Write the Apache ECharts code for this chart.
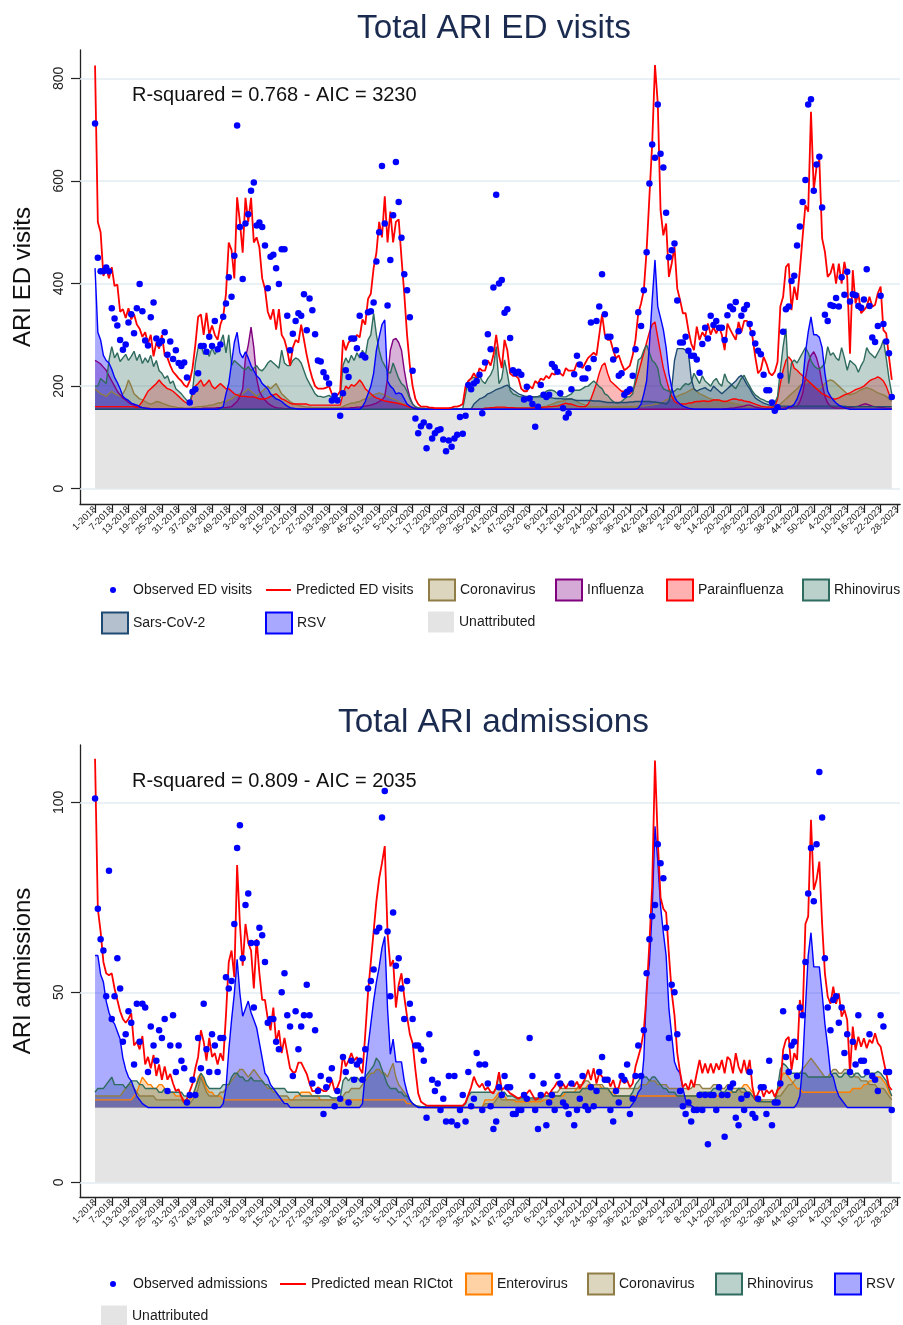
<!DOCTYPE html>
<html><head><meta charset="utf-8">
<script src="https://cdn.jsdelivr.net/npm/echarts@6/dist/echarts.min.js"></script>
<style>html,body{margin:0;padding:0;background:#fff}#chart{width:903px;height:1325px}</style>
</head><body><div id="chart"></div>
<script>
// ---------- tick labels (ISO week-year), one every 6 weeks starting at 1-2018 ----------
const weekTickLabels = ['1-2018','7-2018','13-2018','19-2018','25-2018','31-2018','37-2018','43-2018','49-2018',
 '3-2019','9-2019','15-2019','21-2019','27-2019','33-2019','39-2019','45-2019','51-2019',
 '5-2020','11-2020','17-2020','23-2020','29-2020','35-2020','41-2020','47-2020','53-2020',
 '6-2021','12-2021','18-2021','24-2021','30-2021','36-2021','42-2021','48-2021',
 '2-2022','8-2022','14-2022','20-2022','26-2022','32-2022','38-2022','44-2022','50-2022',
 '4-2023','10-2023','16-2023','22-2023','28-2023'];

// ---------- Panel 1: ARI ED visits (weekly, index 0 = week 1-2018) ----------
const edObserved = [
712,450,424,424,431,424,352,332,318,290,
271,281,324,340,303,352,399,346,289,279,
334,363,293,283,288,305,261,287,253,270,
245,239,246,217,168,189,194,225,278,278,
267,296,278,327,272,281,335,361,412,374,
454,708,510,409,517,535,581,597,513,519,
510,474,391,452,456,430,399,467,467,337,
270,302,327,342,337,379,309,371,348,301,
250,248,227,217,205,172,181,172,142,186,
231,218,293,293,274,337,260,256,344,346,
363,443,500,629,517,357,446,533,637,559,
489,418,387,334,230,137,108,122,129,79,
122,98,108,114,116,96,73,94,82,98,
105,140,107,142,202,194,205,210,222,147,
246,301,272,392,573,400,407,343,350,294,
231,225,228,222,174,199,176,165,121,160,
202,183,179,183,243,237,228,186,157,139,
147,194,223,259,242,215,215,235,324,253,
327,355,418,340,296,296,252,270,220,225,
183,189,194,220,272,344,317,387,461,595,
671,645,749,653,626,538,451,465,478,367,
285,285,296,269,259,259,252,226,282,314,
293,337,319,327,314,314,290,338,355,350,
364,307,337,350,358,321,303,283,269,262,
222,192,192,168,152,159,220,306,350,355,
405,415,474,511,559,602,749,759,581,632,
647,548,339,327,358,356,372,355,412,378,
423,365,379,377,356,353,369,428,356,295,
286,317,376,321,287,264,179];

const edPredicted = [
825,520,500,415,430,410,432,395,398,345,
350,333,352,330,340,320,312,296,305,283,
300,258,285,273,300,260,255,240,228,222,
215,210,202,198,210,235,280,335,340,300,
343,300,318,300,290,320,335,380,480,465,
410,568,520,460,567,520,567,480,490,470,
410,390,345,330,350,310,350,300,290,270,
240,275,290,285,320,290,260,235,215,200,
195,195,195,197,200,185,182,182,190,290,
270,285,290,288,300,295,330,320,370,380,
430,460,520,490,570,480,540,480,520,525,
450,380,300,240,200,175,165,160,160,160,
158,158,157,157,157,157,157,157,158,160,
160,162,165,200,210,215,225,215,235,230,
230,250,240,260,300,260,235,290,270,225,
220,220,215,195,190,190,200,195,210,205,
215,212,220,215,225,222,230,225,220,235,
230,230,230,245,240,235,245,255,260,265,
260,300,340,300,290,290,270,254,260,244,
231,235,240,260,290,342,361,387,465,569,
673,826,751,543,494,517,413,439,472,390,
368,342,342,309,283,270,316,290,305,296,
322,300,315,303,315,300,270,322,310,300,
290,325,305,327,327,315,296,257,225,232,
257,244,226,221,228,247,355,374,432,439,
348,394,368,426,491,553,540,735,582,628,
641,488,462,413,420,439,400,439,400,442,
413,263,426,361,381,342,348,355,374,355,
358,381,394,309,303,257,212];

const edBaseline = 155; // unattributed visits (flat)

// visits attributed to each pathogen, above the unattributed baseline
const edCoronavirus = [
40,35,30,28,25,30,35,30,28,25,
30,40,57,45,30,25,20,18,15,12,
10,12,15,14,12,10,8,6,5,4,
3,3,2,2,2,3,4,5,5,6,
6,8,8,10,12,12,15,15,18,20,
25,28,30,30,35,40,35,30,25,30,
35,40,45,40,45,50,40,30,25,20,
15,12,10,8,6,5,4,4,3,3,
3,3,3,3,3,3,3,3,3,5,
8,10,12,12,14,15,18,20,22,25,
28,30,32,30,28,25,22,20,18,15,
12,10,8,5,3,2,1,0,0,0,
0,0,0,0,0,0,0,0,0,0,
0,0,0,0,0,0,0,0,0,0,
2,2,2,2,3,3,3,3,3,3,
3,3,3,3,3,3,3,3,4,4,
4,5,6,8,10,12,14,15,16,18,
20,20,18,15,12,10,8,6,5,5,
5,5,5,5,5,5,5,5,5,5,
5,5,5,5,5,6,6,6,7,8,
8,10,10,12,15,18,20,22,25,25,
28,30,32,35,38,40,35,30,28,25,
22,20,18,18,16,15,15,14,13,12,
10,10,8,8,6,6,5,5,4,4,
4,4,4,4,5,8,10,15,20,25,
30,35,40,45,50,50,55,50,45,40,
40,45,50,55,57,55,50,45,40,35,
30,28,30,32,35,38,40,42,40,38,
35,32,30,28,25,20,15];

const edInfluenza = [
95,92,88,82,76,65,55,45,35,28,
22,18,13,10,8,5,4,3,2,2,
1,1,1,1,1,1,1,1,1,1,
1,1,1,1,1,1,1,1,1,2,
2,2,2,2,3,3,3,3,4,5,
10,15,25,40,100,125,160,120,60,35,
25,18,12,8,5,3,2,2,1,1,
1,1,1,1,1,1,1,1,1,1,
1,1,1,1,1,1,1,1,1,2,
2,2,3,3,4,4,5,6,7,8,
10,12,15,18,25,60,115,135,138,130,
115,76,45,24,10,4,2,1,0,0,
0,0,0,0,0,0,0,0,0,0,
0,0,0,0,0,0,0,0,0,0,
0,0,0,0,0,0,0,0,0,0,
0,0,0,0,0,0,0,0,0,0,
0,0,0,0,0,0,0,0,0,0,
0,0,0,0,0,0,0,0,0,0,
0,0,0,0,0,0,0,0,0,0,
0,0,0,0,0,0,0,0,0,0,
0,0,0,0,0,0,0,0,0,0,
0,0,0,0,0,0,0,0,0,0,
0,0,0,0,0,0,1,1,2,2,
3,4,5,6,8,8,6,4,3,2,
1,1,1,1,1,1,2,2,3,3,
4,5,5,15,30,60,90,105,112,100,
80,50,25,12,6,3,2,2,2,2,
3,3,4,5,6,8,10,10,8,6,
5,4,3,3,2,2,1];

const edParainfluenza = [
5,5,5,5,5,5,5,5,5,5,
5,5,5,5,5,3,8,15,25,35,
40,45,50,57,50,45,40,38,35,30,
25,20,15,12,10,30,45,50,57,45,
50,57,45,40,45,50,45,40,40,35,
30,28,25,25,25,24,24,24,22,20,
20,20,22,25,28,30,25,20,18,15,
12,10,10,10,10,10,10,8,8,8,
8,8,8,8,8,8,8,8,8,30,
45,40,48,45,50,57,50,40,35,30,
25,22,20,18,16,15,14,13,12,11,
10,8,6,4,2,1,0,0,0,0,
0,0,0,0,0,0,0,0,0,0,
0,0,0,0,0,0,0,0,0,0,
2,2,3,3,4,4,4,4,3,3,
3,2,2,2,2,2,2,2,3,3,
3,4,4,5,5,6,6,8,10,12,
10,10,8,6,5,5,5,10,20,35,
50,70,85,90,70,55,50,45,40,35,
35,30,30,35,50,70,90,110,130,150,
165,170,140,110,80,60,40,25,15,12,
10,10,10,12,12,14,15,15,16,16,
15,16,18,18,18,16,15,16,18,20,
20,18,18,16,15,14,12,10,8,6,
5,4,4,4,5,20,50,76,95,102,
95,80,76,70,65,60,55,50,45,40,
35,30,28,25,22,20,20,22,25,28,
30,32,35,38,40,42,45,50,55,58,
60,63,60,55,45,30,20];

const edRhinovirus = [
45,45,60,55,50,95,122,100,110,93,
100,107,95,103,113,95,107,89,100,91,
105,83,95,75,70,60,65,50,55,40,
35,30,23,17,13,35,90,120,125,107,
115,103,120,107,115,130,145,110,145,85,
95,90,85,80,77,83,75,80,85,77,
75,81,90,95,90,85,80,115,90,85,
85,95,100,97,90,75,60,50,40,30,
25,25,23,25,27,23,20,21,23,85,
100,90,105,95,110,100,115,103,135,145,
187,145,115,95,85,75,70,90,75,60,
50,45,35,20,10,5,3,2,2,1,
1,1,1,1,1,1,1,1,1,1,
1,1,1,30,55,60,62,60,65,55,
50,60,67,80,122,50,60,96,70,37,
30,28,25,24,24,24,26,24,24,25,
27,30,35,37,37,35,30,25,24,24,
27,30,37,37,37,40,44,45,50,55,
50,44,40,30,27,20,15,12,12,15,
20,24,24,30,60,96,100,115,125,110,
95,90,80,50,40,37,35,33,35,40,
38,45,50,48,52,70,60,50,65,55,
50,45,55,60,50,45,69,55,50,45,
40,50,60,66,55,45,35,28,24,20,
18,15,14,12,12,25,76,122,157,50,
90,96,90,100,110,120,110,95,85,80,
78,83,90,122,105,110,100,95,120,100,
76,95,90,85,72,85,95,120,110,105,
100,110,120,135,100,60,30];

const edSarsCoV2 = [
0,0,0,0,0,0,0,0,0,0, 0,0,0,0,0,0,0,0,0,0,
0,0,0,0,0,0,0,0,0,0, 0,0,0,0,0,0,0,0,0,0,
0,0,0,0,0,0,0,0,0,0, 0,0,0,0,0,0,0,0,0,0,
0,0,0,0,0,0,0,0,0,0, 0,0,0,0,0,0,0,0,0,0,
0,0,0,0,0,0,0,0,0,0, 0,0,0,0,0,0,0,0,0,0,
0,0,0,0,0,0,0,0,0,0, 0,0,0,0,0,0,0,0,0,0,
0,0,0,0,0,0,0,0,0,0,
0,0,0,0,0,0,10,15,20,22,
25,30,32,35,38,40,42,45,47,42,
38,34,30,28,26,25,24,24,24,24,
24,24,23,22,22,21,21,21,20,20,
20,20,18,17,17,17,17,17,17,16,
16,16,15,14,13,13,13,13,13,13,
13,13,14,14,15,15,15,15,15,15,
14,14,13,12,12,10,15,40,95,118,
118,118,115,110,60,40,35,38,40,42,
38,35,45,40,35,30,35,40,45,50,
55,62,66,58,48,40,30,22,18,15,
12,10,8,7,6,6,6,6,6,6,
6,6,6,6,6,6,6,6,6,6,
6,6,6,6,6,6,6,6,6,6,
5,5,5,5,5,5,5,5,5,5,
5,5,5,5,5,5,5];

const edRSV = [
275,150,135,105,95,90,78,62,52,40,
25,20,17,12,10,8,5,3,2,1,
0,0,0,0,0,0,0,0,0,0,
0,0,0,0,0,0,0,0,0,0,
0,0,0,0,0,2,5,30,50,90,
130,150,110,100,112,100,85,75,65,60,
50,45,40,30,25,20,18,15,10,6,
3,2,1,0,0,0,0,0,0,0,
0,0,0,0,0,0,0,0,0,0,
0,0,0,0,0,0,5,15,30,45,
70,115,141,165,174,55,45,40,30,32,
30,20,10,6,3,1,0,0,0,0,
0,0,0,0,0,0,0,0,0,0, 0,0,0,0,0,0,0,0,0,0,
0,0,0,0,0,0,0,0,0,0, 0,0,0,0,0,0,0,0,0,0,
0,0,0,0,0,0,0,0,0,0, 0,0,0,0,0,0,0,0,0,0,
0,0,0,0,0,0,0,0,0,0,
0,0,0,0,0,2,10,30,55,125,
213,291,200,178,155,120,70,42,24,15,
10,6,4,2,1,0,0,0,0,0,
0,0,0,0,0,0,0,0,0,0,
0,0,0,0,0,0,0,0,0,0,
0,0,0,0,0,0,0,0,0,5,
5,10,20,35,50,110,150,180,145,145,
140,120,70,35,25,18,12,8,5,3,
1,0,0,0,0,0,0,0,0,0,
0,0,0,0,0,0,0];

// ---------- Panel 2: ARI admissions ----------
const admObserved = [
101,72,64,61,49,82,43,49,59,51,
37,39,45,42,31,47,37,47,46,29,
41,36,32,40,38,43,24,36,44,29,
36,32,30,21,23,27,23,38,30,47,
35,29,39,36,29,38,38,54,51,53,
68,88,94,59,73,76,63,46,63,67,
65,58,42,43,43,37,35,50,55,44,
41,28,45,35,41,44,52,44,26,40,
24,28,18,25,27,30,20,24,22,33,
29,21,32,27,31,32,27,35,51,53,
56,66,67,96,103,66,49,71,57,59,
51,43,53,47,43,36,36,35,32,17,
39,27,24,26,19,22,16,28,16,28,
15,19,23,16,29,20,22,34,31,19,
31,26,20,14,16,25,23,28,25,25,
18,18,19,19,23,22,38,28,19,14,
23,26,15,21,23,19,28,26,21,20,
18,26,15,19,22,28,20,19,25,20,
24,29,33,27,27,19,16,24,21,28,
27,31,18,22,28,36,28,40,55,64,
70,73,89,84,80,67,38,52,50,39,
24,20,18,21,16,19,19,23,19,23,
10,23,23,19,25,23,12,23,25,26,
17,15,22,19,23,29,18,17,22,25,
25,18,32,15,21,21,26,45,33,29,
36,37,28,46,44,58,76,88,74,89,
108,96,59,46,40,48,49,42,46,34,
39,29,37,31,44,32,32,29,39,28,
27,24,44,41,29,29,19];

const admPredicted = [
111.5,72,66,58,55,54.5,55,51,48,45,
43,42,43,44.5,36,37,35,38.5,31,33,
30,33.5,28,31,27,30.5,27,28.5,26,24,
24.5,22.5,21,22,24,26,30,33,40,37,
32,38,33,34,31,34,32,44,58,61,
54,83.5,68,57,68,63,61,51,64,55,
48,48,43,40,46,37,40,34,38,34,
30,29,29,31.5,31.5,30,28.5,26,24,24,
25,24.5,24,24,25,27,24,25,27,33.5,
30.5,32,34,32,33,30,28.7,39,50,58,
66,74,80,84,88.5,65.5,56.8,58.5,46,52,
55,48.9,43.6,39,36.6,29.6,23.4,21.2,20.7,20.2,
20.2,20.2,20.2,20.2,20.2,20.2,20.2,20.2,20.2,20.2,
20.2,20.2,20.2,21,23,25,27.8,26,25,26,
24.3,25,23.8,23.4,25,29,24.3,25,24.3,23.4,
23,22.5,22,22.5,23,23.4,24.3,23,21.7,22,
23.4,22.5,23.8,23,24.3,25.2,26.5,24.7,26,24.7,
26,25.6,25.2,26.5,24.7,26,27.4,29.6,26.9,30,
26,28.7,27.8,26.9,27.4,25.2,26.9,24.3,25,27.8,
26,26.9,25,26,30.4,33,35.7,40,49.7,63,
78,111,90,75,72,71,60,50,44,34,
29,25,26,24.3,27,25,28.7,32.2,28.7,31.3,
28.7,31.3,28.7,31.3,29.6,32.2,28.7,33,32.2,28.7,
34,30.4,28.7,32.2,28.7,32.2,25,21.7,23.4,25,
22.5,24.3,23.4,24.3,22.5,24.3,25,34.8,37.5,38.3,
29.6,34,32.2,48,43.6,68,70,95.4,77,79.6,
84.4,68,55,48.9,47,51.5,47,49.7,43.6,45.4,
42.7,28.7,41,34.8,38.3,35.7,37.9,35.3,37.5,36.6,
39.2,36.6,35.7,32.2,28.7,25.2,24.3];

const admBaseline = 19.7; // unattributed admissions (flat)

const admEnterovirus = [
2,2,2,2,2,2,2,2,2,2,
2,2,2,2,3,4,6,8,7,6,
6,5,5,6,6,5,4,4,4,3,
3,3,2,2,2,3,5,8,9,7,
5,4,4,3,3,3,2,2,2,2,
2,2,2,2,2,2,2,2,2,2,
2,2,2,2,2,2,2,2,2,2,
2,2,3,3,4,4,4,4,3,3,
3,2,2,2,2,2,2,2,2,2,
2,2,2,2,2,2,2,2,2,2,
2,2,2,2,2,2,2,2,2,2,
2,2,1,1,1,0.5,0.3,0.2,0,0,
0,0,0,0,0,0,0,0,0,0,
0,0,0,0,0,0,0,0,0,0,
2,2,2,2,3,4,3,3,2,2,
2,1.5,1.5,1.5,1.5,1.5,1.5,1.5,1.5,1.5,
1.5,2,2,2,2,3,3,3,3,4,
4,4,4,5,5,5,5,6,6,6,
6,6,5,5,5,4,4,3,3,3,
3,3,3,3,3,3,3,3,3,3,
3,3,3,3,3,3,3,3,3,3,
3,3,3,3,3,3,3,3,3,3,
3,3,3,3,3,3,3,3,4,4,
4,5,5,6,6,5,4,3,2,2,
1.5,1.5,1.5,1.5,2,4,7,9,9,8,
7,6,5,5,4,4,4,4,4,4,
4,4,4,4,4,4,4,4,4,4,
4,4,5,5,5,5,6,6,7,7,
8,8,8,7,6,4,3];

const admCoronavirus = [
3,3,3,3,3,3,3,3,3,3,
4,5,6,6,5,4,3,3,3,3,
3,3,2,2,2,2,2,2,2,2,
2,2,1,1,1,2,3,5,8,6,
4,3,3,3,3,4,4,5,6,7,
8,9,10,10,9,8,9,10,9,8,
7,6,5,5,4,4,3,3,3,3,
2,2,2,2,2,2,2,2,2,2,
2,2,2,2,2,2,2,2,2,3,
4,4,5,5,5,5,6,7,8,9,
9,10,10,9,9,8,10,11.6,8,6,
5,4,3,2,1,0.5,0.2,0.1,0,0,
0,0,0,0,0,0,0,0,0,0,
0,0,0,0,0,0,0,0,0,0,
1,1,1,1,2,3,2,2,2,2,
2,2,2,2,2,2,2,2,2,2,
2,3,3,3,4,4,4,5,5,5,
5,5,5,5,6,6,7,7,6,6,
6,6,6,5,5,5,5,5,5,5,
5,5,5,5,5,5,6,6,6,7,
7,7,6,6,6,6,5,5,5,5,
5,5,5,5,5,6,6,6,5,5,
5,5,6,6,6,5,5,6,6,5,
5,5,4,4,4,4,3,3,2,2,
2,2,2,2,2,3,3,4,5,6,
6,7,8,9,10,11,12,13,12,11,
10,9,8,8,9,10,10,9,9,10,
10,9,9,8,8,7,7,7,6,6,
6,5,5,5,4,3,2];

const admRhinovirus = [
4,5,5,5,6,7,8,6,6,6,
6,5,6,7,7,7,6,6,5,5,
5,5,5,4,4,5,4,4,4,4,
4,4,3,3,2.5,3,5,7,9,8,
6,5,5,5,5,5,6,6,6,8,
9,9,8,8,7,7,8,7,7,7,
7,6,6,5,5,5,5,5,5,4,
4,4,4,4,3,3,3,3,3,3,
3,3,3,3,3,2.5,2.5,2.5,2.5,7,
8,7,8,7,8,7,7,8,9,10,
11,13,12,10,8,6,5,5,5,4,
4,3,3,2,1,0.5,0.3,0.2,0.2,0.2,
0.2,0.2,0.2,0.2,0.2,0.2,0.2,0.2,0.2,0.2,
0.2,0.2,0.3,1,3,4,4,4,4,4,
4,4,4,4,5,9,4,4,3,3,
3,2.5,2.5,2.5,2.5,2.5,2.5,2.5,2.5,2.5,
2.5,3,3,3,3,3,3,3,4,4,
4,4,4,4,4,5,5,5,5,5,
5,5,5,5,5,4,3,3,3,3,
3,3,3,4,6,7,8,8,8,7,
8,8,7,6,5,5,4,4,4,3,
3,3,3,3,3,3,3,4,4,4,
4,4,5,5,5,4,4,5,5,4,
4,5,5,5,4,4,3,2,1.5,1.5,
1.5,1.5,1.5,1.5,1.5,5,10,11.6,11,10,
9,9,9,9,9,9,8,8,8,8,
8,8,8,8,8,9,9,8,8,9,
9,8,8,9,9,8,8,9,9,9,
9,9.5,9,8,7,5,3];

const admRSV = [
40,40,35,33,28,25,23,22,20,18,
13,10,8,7,5,3,2,1,0.5,0,
0,0,0,0,0,0,0,0,0,0,
0,0,0,0,0,0,0,0,0,0,
0,0,0,0,0,0,1,5,15,23,
30,39,30,24,26,28,25,23,21,17,
13,9,8,6,5,4,3,2,1,1,
0,0,0,0,0,0,0,0,0,0,
0,0,0,0,0,0,0,0,0,0,
0,0,0,0,0,0,1,9,16,22,
28,33,37,42,45,26,14,18,12,12,
12,7,4,2,1,0.5,0,0,0,0,
0,0,0,0,0,0,0,0,0,0, 0,0,0,0,0,0,0,0,0,0,
0,0,0,0,0,0,0,0,0,0, 0,0,0,0,0,0,0,0,0,0,
0,0,0,0,0,0,0,0,0,0, 0,0,0,0,0,0,0,0,0,0,
0,0,0,0,0,0,0,0,0,0,
0,0,0,1,2,4,5,13,32,38,
52,74,65,53,46,40,26,19,12,10,
9,5,2,1,0.5,0,0,0,0,0,
0,0,0,0,0,0,0,0,0,0,
0,0,0,0,0,0,0,0,0,0,
0,0,0,0,0,0,0,0,0,0,
0,0,1,3,11,26,40,46,37,37,
37,30,22,16,9,8,5,3,2,1,
0,0,0,0,0,0,0,0,0,0,
0,0,0,0,0,0,0];

// ---------- chart ----------
const FONT = "'Liberation Sans', Arial, Helvetica, sans-serif";
const tickPos = weekTickLabels.map((_, k) => k * 6);
const lastIdx = edObserved.length - 1;

function pts(arr) { return arr.map((v, i) => [i, v]); }
function above(base, arr) { return arr.map((v, i) => [i, base + v]); }

function areaSeries(name, arr, base, line, fill, gi) {
  return {
    name, type: 'line', xAxisIndex: gi, yAxisIndex: gi, data: above(base, arr), z: 2,
    symbol: 'none', showSymbol: false, silent: true, clip: false,
    lineStyle: { color: line, width: 1.4 }, itemStyle: { color: line },
    areaStyle: { color: fill, origin: base, opacity: 1 }
  };
}
function baseSeries(base, gi, grid) {
  return {
    name: 'Unattributed', type: 'line', xAxisIndex: gi, yAxisIndex: gi, z: 1,
    data: [[0, base], [lastIdx, base]], symbol: 'none', silent: true,
    lineStyle: { color: '#d6d8e6', width: 1 }, itemStyle: { color: '#e4e4e4' },
    areaStyle: { color: '#e4e4e4', opacity: 1 },
    markLine: {
      silent: true, z: 1, symbol: ['none', 'none'], label: { show: false },
      lineStyle: { color: '#e3edf0', width: 1.6, type: 'solid' },
      data: grid.map(v => ({ yAxis: v }))
    }
  };
}
function xAxisCfg(gi) {
  return {
    gridIndex: gi, type: 'value', min: -5.4, max: 289,
    axisLine: { show: true, onZero: false, lineStyle: { color: '#222', width: 1.3 } },
    axisTick: { show: true, customValues: tickPos, length: 9, lineStyle: { color: '#222', width: 1.2 } },
    axisLabel: { customValues: tickPos, formatter: v => weekTickLabels[Math.round(v / 6)] || '',
      rotate: 45, fontSize: 9.5, color: '#222', margin: 4, fontFamily: FONT },
    splitLine: { show: false }
  };
}
function yAxisCfg(gi, min, max, ticks, name) {
  return {
    gridIndex: gi, type: 'value', min, max,
    axisLine: { show: true, onZero: false, lineStyle: { color: '#222', width: 1.3 } },
    axisTick: { show: true, customValues: ticks, length: 9, lineStyle: { color: '#222', width: 1.2 } },
    axisLabel: { customValues: ticks, rotate: 90, fontSize: 14, color: '#222', margin: 14, fontFamily: FONT },
    splitLine: { show: false },
    name, nameLocation: 'middle', nameRotate: 90, nameGap: 45,
    nameTextStyle: { fontSize: 24, color: '#111', fontFamily: FONT }
  };
}
function leg(name, left, top, icon, w, h, style) {
  return {
    data: [name], left, top, icon, itemWidth: w, itemHeight: h, padding: 0, itemGap: 0,
    selectedMode: false, itemStyle: style,
    textStyle: { fontSize: 14, color: '#1a1a1a', fontFamily: FONT }
  };
}
const C = {
  cor: ['#8f7d45', 'rgba(143,125,69,0.30)', '#ddd6bf'],
  flu: ['#800080', 'rgba(128,0,128,0.30)', '#d6aad6'],
  par: ['#ff0000', 'rgba(255,0,0,0.28)', '#ffb0b0'],
  rhi: ['#2f6b5e', 'rgba(47,107,94,0.30)', '#b9d0cb'],
  sar: ['#1f4a72', 'rgba(31,74,114,0.30)', '#b5c0cf'],
  rsv: ['#0000ff', 'rgba(0,0,255,0.33)', '#a8a8ff'],
  ent: ['#ff8000', 'rgba(255,128,0,0.30)', '#ffd2a6']
};
const box = (c) => ({ color: c[2], borderColor: c[0], borderWidth: 2 });

const option = {
  animation: false,
  backgroundColor: '#ffffff',
  textStyle: { fontFamily: FONT },
  title: [
    { text: 'Total ARI ED visits', left: 357, top: 12, padding: 0,
      textStyle: { fontSize: 33.3, fontWeight: 'normal', color: '#1b2b50', fontFamily: FONT } },
    { text: 'Total ARI admissions', left: 338, top: 706, padding: 0,
      textStyle: { fontSize: 33.3, fontWeight: 'normal', color: '#1b2b50', fontFamily: FONT } }
  ],
  graphic: [
    { type: 'text', left: 132, top: 85, silent: true,
      style: { text: 'R-squared = 0.768 - AIC = 3230', fontSize: 20, fontFamily: FONT, fill: '#111' } },
    { type: 'text', left: 132, top: 771, silent: true,
      style: { text: 'R-squared = 0.809 - AIC = 2035', fontSize: 20, fontFamily: FONT, fill: '#111' } }
  ],
  grid: [
    { left: 80, right: 0, top: 50, bottom: 821, containLabel: false },
    { left: 80, right: 0, top: 745, bottom: 128, containLabel: false }
  ],
  xAxis: [xAxisCfg(0), xAxisCfg(1)],
  yAxis: [
    yAxisCfg(0, -29.8, 855.2, [0, 200, 400, 600, 800], 'ARI ED visits'),
    yAxisCfg(1, -3.87, 115.1, [0, 50, 100], 'ARI admissions')
  ],
  legend: [
    leg('Observed ED visits', 110, 583, 'circle', 30, 6, { color: '#0000ff' }),
    leg('Predicted ED visits', 266, 583, 'rect', 25, 2, { color: '#ff0000' }),
    leg('Coronavirus', 428, 578.5, 'rect', 26, 21, box(C.cor)),
    leg('Influenza', 555, 578.5, 'rect', 26, 21, box(C.flu)),
    leg('Parainfluenza', 666, 578.5, 'rect', 26, 21, box(C.par)),
    leg('Rhinovirus', 802, 578.5, 'rect', 26, 21, box(C.rhi)),
    leg('Sars-CoV-2', 101, 611.5, 'rect', 26, 21, box(C.sar)),
    leg('RSV', 265, 611.5, 'rect', 26, 21, box(C.rsv)),
    leg('Unattributed', 428, 611.5, 'rect', 26, 21, { color: '#e4e4e4', borderColor: '#e4e4e4', borderWidth: 0 }),
    leg('Observed admissions', 110, 1277, 'circle', 30, 6, { color: '#0000ff' }),
    leg('Predicted mean RICtot', 280, 1277, 'rect', 26, 2, { color: '#ff0000' }),
    leg('Enterovirus', 465, 1272.5, 'rect', 26, 21, box(C.ent)),
    leg('Coronavirus', 587, 1272.5, 'rect', 26, 21, box(C.cor)),
    leg('Rhinovirus', 715, 1272.5, 'rect', 26, 21, box(C.rhi)),
    leg('RSV', 834, 1272.5, 'rect', 26, 21, box(C.rsv)),
    leg('Unattributed', 101, 1305.5, 'rect', 26, 21, { color: '#e4e4e4', borderColor: '#e4e4e4', borderWidth: 0 })
  ],
  series: [
    baseSeries(edBaseline, 0, [0, 200, 400, 600, 800]),
    areaSeries('Coronavirus', edCoronavirus, edBaseline, C.cor[0], C.cor[1], 0),
    areaSeries('Influenza', edInfluenza, edBaseline, C.flu[0], C.flu[1], 0),
    areaSeries('Parainfluenza', edParainfluenza, edBaseline, C.par[0], C.par[1], 0),
    areaSeries('Rhinovirus', edRhinovirus, edBaseline, C.rhi[0], C.rhi[1], 0),
    areaSeries('Sars-CoV-2', edSarsCoV2, edBaseline, C.sar[0], C.sar[1], 0),
    areaSeries('RSV', edRSV, edBaseline, C.rsv[0], C.rsv[1], 0),
    { name: 'Predicted ED visits', type: 'line', xAxisIndex: 0, yAxisIndex: 0, data: pts(edPredicted), z: 3,
      symbol: 'none', clip: false, lineStyle: { color: '#ff0000', width: 1.8 }, itemStyle: { color: '#ff0000' } },
    { name: 'Observed ED visits', type: 'scatter', xAxisIndex: 0, yAxisIndex: 0, data: pts(edObserved), z: 4,
      symbolSize: 6.5, itemStyle: { color: '#0000ff', opacity: 1 } },

    baseSeries(admBaseline, 1, [0, 50, 100]),
    areaSeries('Enterovirus', admEnterovirus, admBaseline, C.ent[0], C.ent[1], 1),
    areaSeries('Coronavirus', admCoronavirus, admBaseline, C.cor[0], C.cor[1], 1),
    areaSeries('Rhinovirus', admRhinovirus, admBaseline, C.rhi[0], C.rhi[1], 1),
    areaSeries('RSV', admRSV, admBaseline, C.rsv[0], C.rsv[1], 1),
    { name: 'Predicted mean RICtot', type: 'line', xAxisIndex: 1, yAxisIndex: 1, data: pts(admPredicted), z: 3,
      symbol: 'none', clip: false, lineStyle: { color: '#ff0000', width: 1.8 }, itemStyle: { color: '#ff0000' } },
    { name: 'Observed admissions', type: 'scatter', xAxisIndex: 1, yAxisIndex: 1, data: pts(admObserved), z: 4,
      symbolSize: 6.5, itemStyle: { color: '#0000ff', opacity: 1 } }
  ]
};
const chart = echarts.init(document.getElementById('chart'), null, { renderer: 'canvas' });
chart.setOption(option);
</script>
</body></html>
